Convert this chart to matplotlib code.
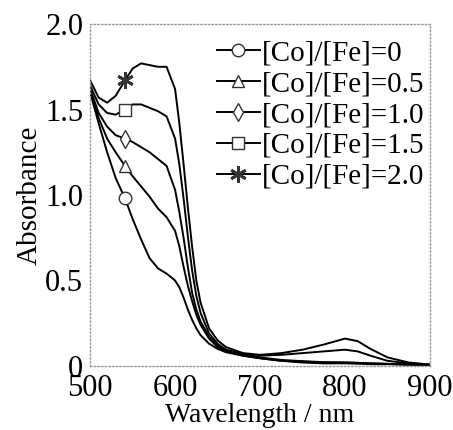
import matplotlib.pyplot as plt
import numpy as np

plt.rcParams['font.family'] = ['Liberation Serif', 'DejaVu Serif']

# Wavelength grid (nm)
wavelength = [500, 510, 520, 530, 541, 550, 560, 570, 580, 590, 600, 605, 610, 615,
              620, 625, 630, 640, 650, 660, 680, 700, 725, 750, 775, 800, 815, 830,
              850, 875, 900]

# Absorbance for each [Co]/[Fe] ratio
abs_0 = [1.60, 1.42, 1.25, 1.10, 0.98, 0.86, 0.74, 0.63, 0.57, 0.54, 0.50, 0.46, 0.40, 0.33,
         0.27, 0.22, 0.18, 0.13, 0.10, 0.08, 0.06, 0.045, 0.03, 0.02, 0.015, 0.015, 0.013, 0.01,
         0.01, 0.008, 0.005]
abs_05 = [1.61, 1.45, 1.33, 1.25, 1.17, 1.11, 1.05, 0.99, 0.92, 0.87, 0.79, 0.70, 0.58, 0.47,
          0.38, 0.30, 0.24, 0.16, 0.11, 0.085, 0.06, 0.045, 0.03, 0.025, 0.02, 0.02, 0.018, 0.015,
          0.012, 0.008, 0.005]
abs_10 = [1.62, 1.48, 1.40, 1.35, 1.33, 1.31, 1.28, 1.25, 1.21, 1.17, 1.03, 0.90, 0.75, 0.58,
          0.43, 0.33, 0.26, 0.17, 0.12, 0.09, 0.065, 0.05, 0.035, 0.028, 0.022, 0.02, 0.018, 0.015,
          0.012, 0.008, 0.005]
abs_15 = [1.64, 1.53, 1.48, 1.47, 1.50, 1.53, 1.53, 1.51, 1.49, 1.46, 1.33, 1.18, 0.98, 0.76,
          0.56, 0.41, 0.31, 0.19, 0.13, 0.095, 0.07, 0.06, 0.065, 0.075, 0.085, 0.095, 0.085, 0.06,
          0.03, 0.015, 0.008]
abs_20 = [1.67, 1.57, 1.54, 1.58, 1.67, 1.74, 1.77, 1.76, 1.75, 1.75, 1.62, 1.42, 1.18, 0.93,
          0.70, 0.50, 0.37, 0.22, 0.15, 0.11, 0.075, 0.065, 0.075, 0.095, 0.125, 0.16, 0.145, 0.10,
          0.05, 0.02, 0.008]

labels = ['[Co]/[Fe]=0', '[Co]/[Fe]=0.5', '[Co]/[Fe]=1.0', '[Co]/[Fe]=1.5', '[Co]/[Fe]=2.0']
series = [abs_0, abs_05, abs_10, abs_15, abs_20]
markers = ['o', '^', 'd', 's', (6, 2, 0)]
msizes = [9, 9, 9, 9, 12]
mews = [1.0, 1.0, 1.0, 1.0, 2.0]

fig = plt.figure(figsize=(4.53, 4.30), dpi=100)
ax = fig.add_axes([0.199, 0.149, 0.750, 0.795])

for y, lab, m, ms, mw in zip(series, labels, markers, msizes, mews):
    ax.plot(wavelength, y, color='black', lw=1.4, marker=m, markevery=[4],
            markersize=ms, markerfacecolor='white', markeredgecolor='#333333',
            markeredgewidth=mw, label=lab)

ax.set_xlim(500, 900)
ax.set_ylim(0, 2.0)
ax.set_xticks([500, 600, 700, 800, 900])
ax.set_yticks([0, 0.5, 1.0, 1.5, 2.0])
ax.set_yticklabels(['0', '0.5', '1.0', '1.5', '2.0'])
ax.tick_params(axis='x', length=0, labelsize=22, pad=6)
ax.tick_params(axis='y', length=0, labelsize=22, pad=5)
for s in ax.spines.values():
    s.set_color('#999999')
    s.set_linestyle(':')
    s.set_linewidth(1.0)

ax.set_xlabel('Wavelength / nm', fontsize=20, labelpad=0)
ax.set_ylabel('Absorbance', fontsize=21, labelpad=2)

ax.legend(loc='upper left', bbox_to_anchor=(0.355, 0.97), frameon=False, fontsize=21,
          handlelength=1.5, handletextpad=0.05, labelspacing=0.15, borderaxespad=0.0,
          borderpad=0.2)

fig.savefig('out.png', dpi=100)
